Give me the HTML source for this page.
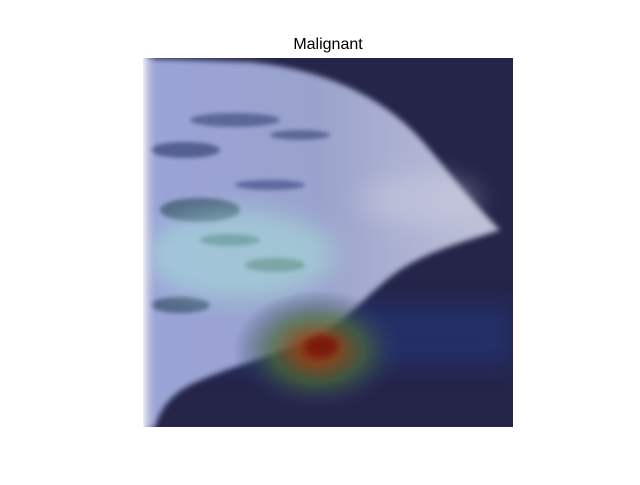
<!DOCTYPE html>
<html><head><meta charset="utf-8"><style>
body{margin:0;background:#fff;width:640px;height:480px;overflow:hidden;font-family:"Liberation Sans",sans-serif}
</style></head><body>
<svg width="640" height="480" viewBox="0 0 640 480">
<defs>
<clipPath id="clip"><rect x="143" y="58" width="370" height="369"/></clipPath>
<filter id="blur4" x="-20%" y="-20%" width="140%" height="140%"><feGaussianBlur stdDeviation="3"/></filter>
<filter id="blur10" x="-50%" y="-50%" width="200%" height="200%"><feGaussianBlur stdDeviation="12"/></filter>
<filter id="blur2"><feGaussianBlur stdDeviation="2"/></filter>
<radialGradient id="hot" cx="0.5" cy="0.5" r="0.5">
<stop offset="0" stop-color="#8a1a10"/>
<stop offset="0.25" stop-color="#8a4a1a" stop-opacity="0.9"/>
<stop offset="0.55" stop-color="#4a6a3a" stop-opacity="0.7"/>
<stop offset="1" stop-color="#2a3a6a" stop-opacity="0"/>
</radialGradient>
<linearGradient id="breast" x1="0" y1="0" x2="1" y2="0">
<stop offset="0" stop-color="#9aa4d8"/>
<stop offset="0.5" stop-color="#9aa2cc"/>
<stop offset="1" stop-color="#c0c2d8"/>
</linearGradient>
<linearGradient id="edge" x1="0" x2="1">
<stop offset="0" stop-color="#f0f0f4"/><stop offset="1" stop-color="#b0b0d8" stop-opacity="0"/>
</linearGradient>
</defs>
<text x="328" y="49" text-anchor="middle" font-size="16" fill="#000">Malignant</text>
<g clip-path="url(#clip)">
<rect x="143" y="58" width="370" height="369" fill="#25254a"/>
<rect x="143" y="305" width="370" height="60" fill="#223070" filter="url(#blur10)" opacity="0.8"/>
<path d="M130,58 L250,62 C330,70 390,100 430,150 C455,180 480,210 500,230 C470,240 430,250 400,270 C370,290 350,320 310,340 C260,360 220,370 190,385 C170,395 160,410 155,427 L130,427 Z" fill="url(#breast)" filter="url(#blur4)"/>
<g filter="url(#blur2)" opacity="0.55">
<ellipse cx="185" cy="150" rx="35" ry="8" fill="#1a2a5a"/>
<ellipse cx="235" cy="120" rx="45" ry="7" fill="#2a3a6a"/>
<ellipse cx="200" cy="210" rx="40" ry="12" fill="#1a3a4a"/>
<ellipse cx="275" cy="265" rx="30" ry="7" fill="#1a3a3a"/>
<ellipse cx="180" cy="305" rx="30" ry="8" fill="#1a3a4a"/>
<ellipse cx="270" cy="185" rx="35" ry="5" fill="#2a3a7a"/>
<ellipse cx="300" cy="135" rx="30" ry="5" fill="#2a3a6a"/>
<ellipse cx="230" cy="240" rx="30" ry="6" fill="#1a3a4a"/>
</g>
<ellipse cx="240" cy="255" rx="95" ry="45" fill="#aaf0dd" opacity="0.45" filter="url(#blur10)"/>
<ellipse cx="420" cy="200" rx="60" ry="25" fill="#d8d8e4" opacity="0.35" filter="url(#blur10)"/>
<rect x="143" y="58" width="14" height="369" fill="url(#edge)"/>
<ellipse cx="318" cy="350" rx="85" ry="60" fill="url(#hot)"/>
<ellipse cx="322" cy="346" rx="16" ry="10" fill="#7a1a10" filter="url(#blur4)"/>
</g>
</svg>
</body></html>
